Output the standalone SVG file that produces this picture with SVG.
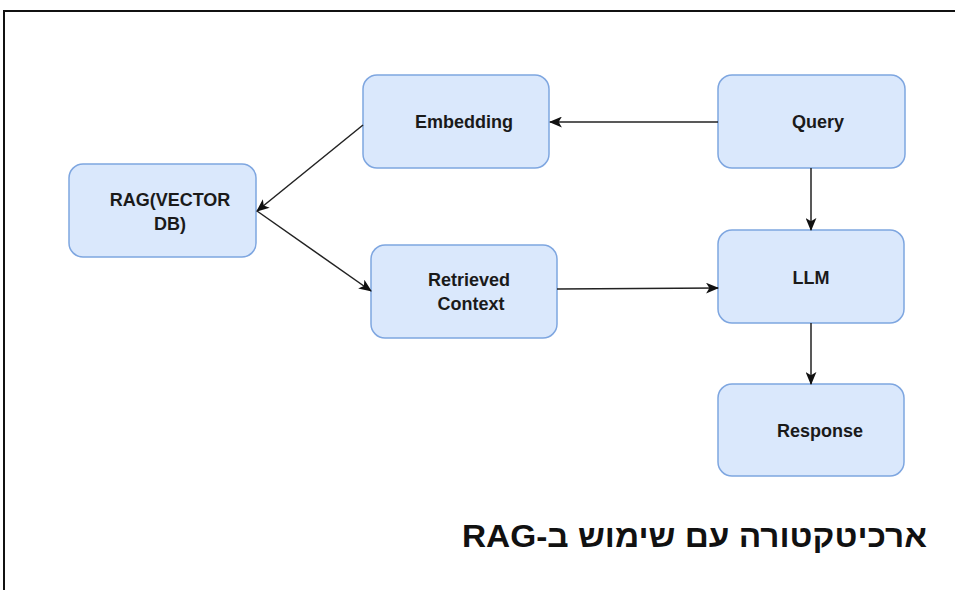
<svg xmlns="http://www.w3.org/2000/svg" width="955" height="590" viewBox="0 0 955 590">
<style>
.node rect{fill:#dae8fc;stroke:#7ea6e0;stroke-width:1.5}
.node text{font-family:"Liberation Sans",Arial,sans-serif;font-weight:bold;font-size:18px;fill:#1a1a1a;text-anchor:middle}
.conn line{stroke:#222;stroke-width:1.5;marker-end:url(#ah)}
</style>
<defs>
<marker id="ah" viewBox="0 0 12 10" refX="11" refY="5" markerWidth="13" markerHeight="11" markerUnits="userSpaceOnUse" orient="auto">
<path d="M0,0 L12,5 L0,10 L3,5 Z" fill="#111"/>
</marker>
</defs>
<rect width="955" height="590" fill="#fff"/>
<path d="M4,590 V11 H955" fill="none" stroke="#111" stroke-width="2"/>
<g id="query" class="node"><rect x="718" y="75" width="187" height="93" rx="14"/><text x="818" y="128">Query</text></g>
<g id="embedding" class="node"><rect x="363" y="75" width="186" height="93" rx="14"/><text x="464" y="128">Embedding</text></g>
<g id="rag" class="node"><rect x="69" y="164" width="187" height="93" rx="14"/><text x="170" y="206">RAG(VECTOR</text><text x="170" y="230">DB)</text></g>
<g id="retrieved" class="node"><rect x="371" y="245" width="186" height="93" rx="14"/><text x="469" y="286">Retrieved</text><text x="471" y="310">Context</text></g>
<g id="llm" class="node"><rect x="718" y="230" width="186" height="93" rx="14"/><text x="811" y="284">LLM</text></g>
<g id="response" class="node"><rect x="718" y="384" width="186" height="92" rx="14"/><text x="820" y="437">Response</text></g>
<g id="connectors" class="conn">
<line x1="718" y1="122" x2="550" y2="122"/>
<line x1="363" y1="125" x2="257" y2="211"/>
<line x1="257" y1="211" x2="371" y2="291"/>
<line x1="557" y1="289" x2="718" y2="288"/>
<line x1="811" y1="168" x2="811" y2="230"/>
<line x1="811" y1="323" x2="811" y2="384"/>
</g>
<text x="927" y="547" direction="rtl" text-anchor="start" textLength="465" lengthAdjust="spacingAndGlyphs" style="font-family:'Liberation Sans',Arial,sans-serif;font-weight:bold;font-size:31px;fill:#111">ארכיטקטורה עם שימוש ב-RAG</text>
</svg>
